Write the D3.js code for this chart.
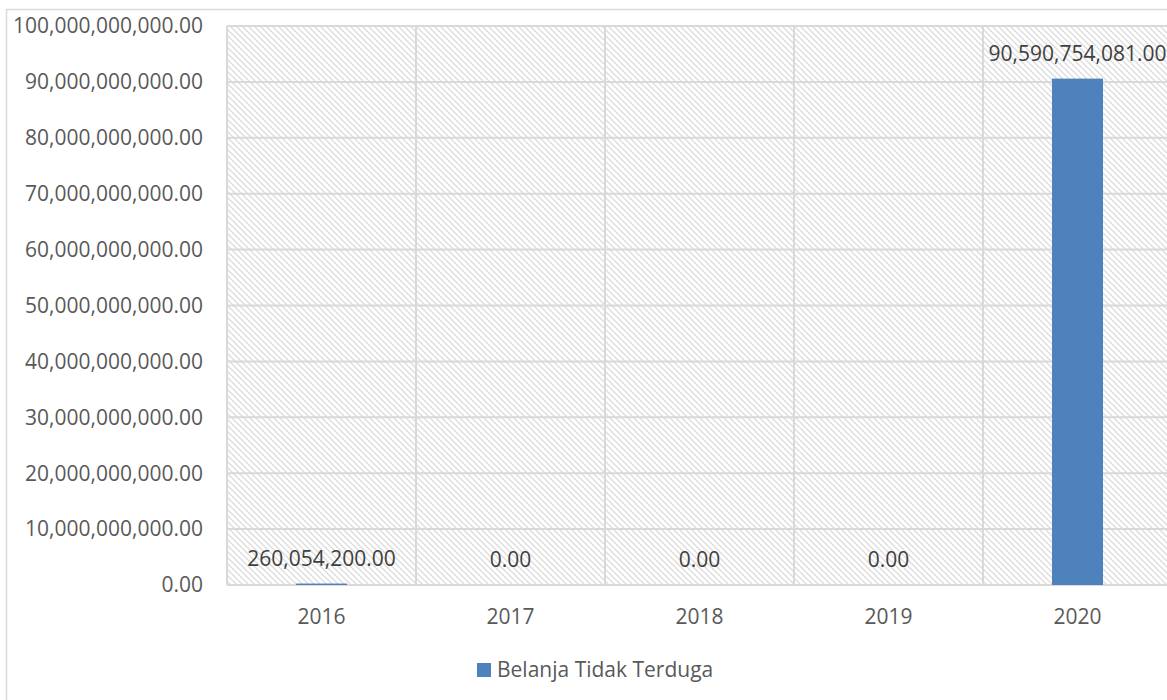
<!DOCTYPE html>
<html><head><meta charset="utf-8">
<script src="https://cdn.jsdelivr.net/npm/d3@7"></script>
<style>
body{margin:0;background:#fff;}
text{font-family:"Open Sans",sans-serif;fill:#595959;}
</style></head>
<body><svg id="c" width="1167" height="700"></svg>
<script>
const categories = ["2016","2017","2018","2019","2020"];
const values = [260054200.00, 0, 0, 0, 90590754081.00];
const valueLabels = ["260,054,200.00","0.00","0.00","0.00","90,590,754,081.00"];
const yTicks = [0,10e9,20e9,30e9,40e9,50e9,60e9,70e9,80e9,90e9,100e9];
const seriesName = "Belanja Tidak Terduga";

const svg = d3.select("#c");
const W = 1167, H = 700;
const plot = {left:227, top:26, right:1172, bottom:585};
const fs = 21;

const defs = svg.append("defs");
const pat = defs.append("pattern").attr("id","hatch").attr("patternUnits","userSpaceOnUse")
  .attr("width",6).attr("height",6);
pat.append("path").attr("d","M0,0 L6,6 M-1,5 L1,7 M5,-1 L7,1")
  .attr("stroke","#dcdcdc").attr("stroke-width",1.3).attr("fill","none");

// outer border
svg.append("rect").attr("x",6.5).attr("y",9.5).attr("width",W+10).attr("height",H+10)
  .attr("fill","none").attr("stroke","#d9d9d9").attr("stroke-width",1.5);

const x = d3.scaleBand().domain(categories).range([plot.left,plot.right]).paddingInner(0).paddingOuter(0);
const y = d3.scaleLinear().domain([0,100e9]).range([plot.bottom,plot.top]);

svg.append("rect").attr("x",plot.left).attr("y",plot.top)
  .attr("width",plot.right-plot.left).attr("height",plot.bottom-plot.top).attr("fill","url(#hatch)");

// horizontal gridlines
svg.append("g").selectAll("line").data(yTicks).join("line")
  .attr("x1",plot.left).attr("x2",plot.right)
  .attr("y1",d=>y(d)).attr("y2",d=>y(d))
  .attr("stroke","#d9d9d9").attr("stroke-width",2);
// vertical gridlines
const vx = categories.map(c=>x(c)).concat([plot.right]);
svg.append("g").selectAll("line").data(vx).join("line")
  .attr("x1",d=>d).attr("x2",d=>d).attr("y1",plot.top).attr("y2",plot.bottom)
  .attr("stroke","#d9d9d9").attr("stroke-width",2);

// y axis labels
const fmt = d3.format(",.2f");
svg.append("g").selectAll("text").data(yTicks).join("text")
  .attr("x",203).attr("y",d=>y(d)).attr("dy","0.35em").attr("text-anchor","end")
  .attr("font-size",fs).text(d=>fmt(d));

// bars
const bw = 51;
svg.append("g").selectAll("rect").data(values).join("rect")
  .attr("x",(d,i)=>x(categories[i])+x.bandwidth()/2-bw/2)
  .attr("width",bw)
  .attr("y",d=>y(d)).attr("height",d=>plot.bottom-y(d))
  .attr("fill","#4f81bd");

// value labels
svg.append("g").selectAll("text").data(values).join("text")
  .attr("x",(d,i)=>x(categories[i])+x.bandwidth()/2)
  .attr("y",d=>y(d)-25).attr("dy","0.35em").attr("text-anchor","middle")
  .attr("font-size",fs).style("fill","#404040")
  .text((d,i)=>valueLabels[i]);

// x labels
svg.append("g").selectAll("text").data(categories).join("text")
  .attr("x",d=>x(d)+x.bandwidth()/2).attr("y",617).attr("dy","0.35em")
  .attr("text-anchor","middle").attr("font-size",fs).text(d=>d);

// legend
svg.append("rect").attr("x",477).attr("y",663).attr("width",14).attr("height",14).attr("fill","#4f81bd");
svg.append("text").attr("x",497).attr("y",670).attr("dy","0.35em").attr("font-size",fs).text(seriesName);
</script></body></html>
